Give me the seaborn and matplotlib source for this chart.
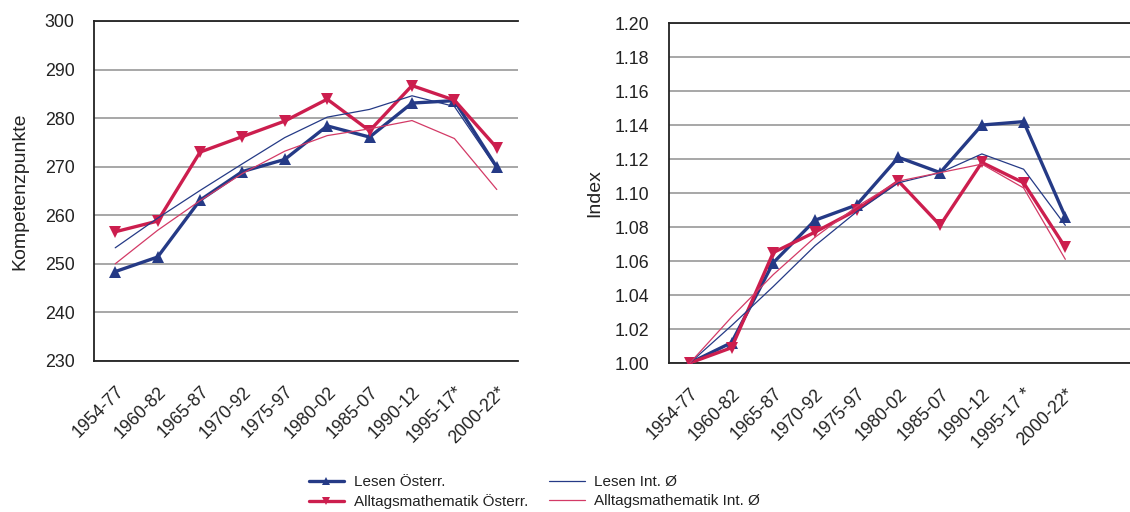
import matplotlib
matplotlib.use("Agg")
import matplotlib.pyplot as plt
import seaborn as sns
import pandas as pd

periods = ["1954-77", "1960-82", "1965-87", "1970-92", "1975-97",
    "1980-02", "1985-07", "1990-12", "1995-17*", "2000-22*"]
periods_right = ["1954-77", "1960-82", "1965-87", "1970-92", "1975-97",
    "1980-02", "1985-07", "1990-12", "1995-17 *", "2000-22*"]

# Kompetenzpunkte
lesen_at = [248.4, 251.4, 263.1, 269.0, 271.5, 278.4, 276.1, 283.1, 283.6, 269.9]
mathe_at = [256.6, 258.8, 273.0, 276.2, 279.4, 283.9, 277.4, 286.7, 283.7, 273.9]
lesen_int = [253.3, 259.4, 265.1, 270.6, 276.0, 280.2, 281.8, 284.6, 282.4, 269.6]
mathe_int = [250.0, 256.9, 263.0, 268.6, 273.2, 276.4, 277.8, 279.5, 275.8, 265.3]

# Index
lesen_at_idx = [1.000, 1.012, 1.059, 1.084, 1.093, 1.121, 1.112, 1.140, 1.142, 1.086]
mathe_at_idx = [1.000, 1.009, 1.065, 1.077, 1.090, 1.107, 1.081, 1.118, 1.106, 1.068]
lesen_int_idx = [1.000, 1.022, 1.045, 1.069, 1.089, 1.106, 1.112, 1.123, 1.114, 1.081]
mathe_int_idx = [1.000, 1.027, 1.052, 1.074, 1.092, 1.107, 1.112, 1.117, 1.103, 1.061]

labels = ["Lesen Österr.", "Alltagsmathematik Österr.", "Lesen Int. Ø", "Alltagsmathematik Int. Ø"]

blue = "#253a86"
red = "#cc1e4e"
red_thin = "#d33a66"

sns.set_style("white")
plt.rcParams["font.family"] = ["Liberation Sans", "DejaVu Sans"]
plt.rcParams["text.color"] = "#222222"
plt.rcParams["axes.labelcolor"] = "#222222"

fig = plt.figure(figsize=(11.3, 5.12), dpi=100)
ax1 = fig.add_axes([0.0832, 0.295, 0.3752, 0.664])
ax2 = fig.add_axes([0.592, 0.291, 0.408, 0.664])


def draw(ax, x, series, ylim, yticks, ylabel, fmt, xmax, lpad):
    styles = [
        dict(color=blue, linewidth=2.4, marker="^", markersize=8, markeredgewidth=0),
        dict(color=red, linewidth=2.4, marker="v", markersize=8, markeredgewidth=0),
        dict(color=blue, linewidth=0.9),
        dict(color=red_thin, linewidth=0.9),
    ]
    df = pd.DataFrame({"x": range(len(x))})
    for vals, lab, st in zip(series, labels, styles):
        df["y"] = vals
        sns.lineplot(data=df, x="x", y="y", ax=ax, label=lab, zorder=3, **st)
    ax.set_xticks(range(len(x)))
    ax.set_xticklabels(x, rotation=45, ha="right", rotation_mode="anchor")
    ax.set_xlim(-0.5, xmax)
    ax.set_ylim(*ylim)
    ax.set_yticks(yticks)
    ax.set_yticklabels([fmt.format(v) for v in yticks])
    ax.set_xlabel("")
    ax.set_ylabel(ylabel, fontsize=14, labelpad=lpad)
    ax.yaxis.grid(True, color="#a0a0a0", linewidth=1.3)
    ax.set_axisbelow(True)
    for s in ["left", "bottom", "top"]:
        ax.spines[s].set_color("#222222")
        ax.spines[s].set_linewidth(1.3)
    ax.spines["right"].set_visible(False)
    ax.tick_params(axis="both", direction="out", length=10, width=1.0,
        color="#222222", labelsize=12.8, labelcolor="#222222", pad=4)
    ax.tick_params(axis="x", pad=6)
    ax.get_legend().remove()


draw(ax1, periods, [lesen_at, mathe_at, lesen_int, mathe_int],
    (230, 300), list(range(230, 301, 10)), "Kompetenzpunkte", "{:.0f}", 9.5, 12)
draw(ax2, periods_right, [lesen_at_idx, mathe_at_idx, lesen_int_idx, mathe_int_idx],
    (1.0, 1.2), [1.00 + 0.02 * i for i in range(11)], "Index", "{:.2f}", 10.55, 8)

handles, labs = ax1.get_legend_handles_labels()
fig.legend(handles, labs, loc="center", bbox_to_anchor=(0.473, 0.039),
    ncol=2, frameon=False, fontsize=11, handlelength=2.3, handletextpad=0.65,
    columnspacing=1.4, labelspacing=0.35, markerscale=0.8)

fig.savefig("out.png", dpi=100)
